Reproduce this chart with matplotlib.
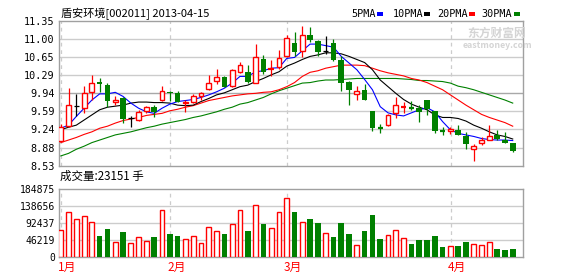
import matplotlib
matplotlib.use("Agg")
import matplotlib.pyplot as plt
from matplotlib.patches import Rectangle
import numpy as np

plt.rcParams['font.family'] = ['Noto Sans CJK SC', 'DejaVu Sans']

# ---------------- data ----------------
open_ = [9.02, 9.30, 9.69, 9.65, 9.97, 10.16, 10.10, 9.78, 9.85, 9.45,
         9.42, 9.60, 9.67, 9.81, 9.97, 9.95, 9.745, 9.77, 9.89, 10.02,
         10.19, 10.25, 10.08, 10.35, 10.35, 10.15, 10.60, 10.41, 10.45, 10.66,
         10.93, 10.77, 11.08, 10.96, 10.77, 10.93, 10.59, 10.17, 9.92, 10.01,
         9.60, 9.28, 9.32, 9.55, 9.67, 9.67, 9.66, 9.81, 9.60, 9.21,
         9.21, 9.23, 9.11, 8.85, 8.97, 9.04, 9.13, 9.03, 8.97]
close_ = [9.28, 9.71, 9.69, 9.94, 10.14, 10.12, 9.80, 9.81, 9.44, 9.45,
          9.57, 9.67, 9.58, 9.99, 9.94, 9.78, 9.77, 9.89, 9.94, 10.15,
          10.25, 10.07, 10.40, 10.49, 10.17, 10.64, 10.36, 10.43, 10.62, 11.01,
          10.75, 11.08, 10.97, 10.75, 10.77, 10.59, 10.15, 10.01, 9.99, 9.81,
          9.27, 9.26, 9.51, 9.71, 9.69, 9.65, 9.58, 9.63, 9.21, 9.20,
          9.24, 9.13, 8.95, 8.91, 9.03, 9.11, 9.06, 8.98, 8.82]
high_ = [9.34, 10.04, 9.93, 10.08, 10.30, 10.24, 10.15, 9.89, 9.86, 9.49,
         9.62, 9.69, 9.71, 10.08, 9.99, 9.99, 9.82, 9.92, 9.97, 10.30,
         10.41, 10.27, 10.41, 10.56, 10.49, 10.90, 10.69, 10.59, 10.79, 11.08,
         11.13, 11.26, 11.23, 10.97, 11.05, 11.00, 10.66, 10.18, 10.09, 10.12,
         9.60, 9.35, 9.53, 9.86, 9.78, 9.79, 9.71, 9.81, 9.60, 9.28,
         9.29, 9.32, 9.19, 8.96, 9.08, 9.32, 9.23, 9.19, 8.98]
low_ = [9.02, 9.29, 9.50, 9.56, 9.81, 9.97, 9.68, 9.71, 9.37, 9.28,
        9.41, 9.55, 9.47, 9.80, 9.79, 9.77, 9.57, 9.76, 9.81, 10.01,
        10.12, 10.06, 10.07, 10.33, 10.15, 10.14, 10.32, 10.27, 10.41, 10.64,
        10.67, 10.64, 10.95, 10.67, 10.70, 10.58, 9.99, 9.71, 9.82, 9.81,
        9.21, 9.17, 9.30, 9.45, 9.55, 9.62, 9.39, 9.52, 9.16, 9.13,
        9.15, 9.12, 8.85, 8.63, 8.93, 9.03, 9.04, 8.97, 8.80]
volume = [73406, 122344, 103313, 111469, 95156, 58000, 77031, 41688, 68875, 38969,
          54375, 43500, 55281, 127781, 63438, 58000, 48938, 57094, 38063, 81563,
          70688, 63438, 90625, 127781, 71594, 141375, 91531, 78844, 122344, 160406,
          123250, 95156, 104219, 93344, 65250, 55281, 93344, 63438, 32625, 71594,
          115094, 49844, 59813, 73406, 51656, 36250, 47125, 47125, 58000, 28094,
          29906, 30813, 41688, 35344, 32625, 40781, 22656, 19938, 23151]
ma5 = [9.26, 9.32, 9.49, 9.65, 9.81, 9.93, 9.93, 9.96, 9.88, 9.75,
       9.65, 9.58, 9.55, 9.65, 9.73, 9.78, 9.80, 9.82, 9.86, 9.91,
       9.97, 10.04, 10.14, 10.27, 10.27, 10.36, 10.38, 10.43, 10.44, 10.62,
       10.64, 10.77, 10.90, 10.90, 10.87, 10.84, 10.66, 10.53, 10.40, 10.21,
       10.01, 9.68, 9.56, 9.52, 9.50, 9.56, 9.62, 9.66, 9.58, 9.39,
       9.23, 9.16, 9.13, 9.10, 9.06, 9.04, 9.03, 9.03, 9.02]
ma10 = [9.23, 9.28, 9.32, 9.42, 9.52, 9.62, 9.67, 9.69, 9.71, 9.75,
        9.77, 9.77, 9.76, 9.76, 9.75, 9.71, 9.70, 9.71, 9.78, 9.84,
        9.91, 9.95, 10.01, 10.07, 10.10, 10.17, 10.23, 10.30, 10.36, 10.47,
        10.53, 10.60, 10.66, 10.69, 10.73, 10.73, 10.71, 10.66, 10.60, 10.54,
        10.40, 10.20, 10.07, 9.94, 9.82, 9.73, 9.67, 9.62, 9.52, 9.47,
        9.47, 9.45, 9.40, 9.32, 9.26, 9.19, 9.13, 9.10, 9.05]
ma20 = [8.98, 9.03, 9.08, 9.14, 9.19, 9.26, 9.30, 9.36, 9.41, 9.44,
        9.47, 9.51, 9.53, 9.55, 9.60, 9.63, 9.67, 9.70, 9.75, 9.80,
        9.83, 9.86, 9.89, 9.91, 9.93, 9.94, 9.96, 9.97, 10.01, 10.07,
        10.15, 10.27, 10.35, 10.38, 10.43, 10.46, 10.49, 10.49, 10.49, 10.48,
        10.43, 10.38, 10.34, 10.31, 10.28, 10.23, 10.20, 10.15, 10.08, 10.01,
        9.91, 9.81, 9.71, 9.62, 9.53, 9.47, 9.42, 9.37, 9.30]
ma30 = [8.72, 8.77, 8.85, 8.91, 8.98, 9.03, 9.08, 9.13, 9.16, 9.19,
        9.23, 9.27, 9.30, 9.34, 9.37, 9.40, 9.43, 9.47, 9.50, 9.54,
        9.58, 9.63, 9.67, 9.73, 9.76, 9.81, 9.86, 9.93, 9.99, 10.04,
        10.09, 10.14, 10.15, 10.18, 10.20, 10.20, 10.21, 10.22, 10.23, 10.23,
        10.23, 10.23, 10.23, 10.23, 10.22, 10.21, 10.19, 10.19, 10.18, 10.17,
        10.14, 10.08, 10.05, 10.01, 9.96, 9.91, 9.86, 9.81, 9.75]
price_ticks = ["8.53", "8.88", "9.24", "9.59", "9.94", "10.29", "10.65", "11.00", "11.35"]
vol_ticks = [0, 46219, 92437, 138656, 184875]
month_labels = ["1月", "2月", "3月", "4月"]
month_days = [0, 14, 29, 50]
ma_names = ["5PMA", "10PMA", "20PMA", "30PMA"]
title = "盾安环境[002011] 2013-04-15"
vol_title = "成交量:23151 手"

# ---------------- styles ----------------
RED = "#ff0000"
GREEN = "#008000"
GRID = "#cccccc"
SPINE = "#a0a0a0"
MONO = ["DejaVu Sans Mono"]

W, H = 578, 276
fig = plt.figure(figsize=(W / 100, H / 100), dpi=100)
fig.patch.set_facecolor("white")

def fx(px):
    return px / W

def fy(py):
    return 1 - py / H

L, R = 59, 522.7
ax = fig.add_axes([fx(L), fy(165.7), fx(R - L), fy(21) - fy(165.7)])
axv = fig.add_axes([fx(L), fy(257.3), fx(R - L), fy(189.3) - fy(257.3)])

n = len(open_)
x = np.arange(n)
xlim = (-0.22, n - 1 + 1.28)

for a in (ax, axv):
    a.set_xlim(*xlim)
    for s in a.spines.values():
        s.set_color(SPINE)
        s.set_linewidth(1.0)
    a.tick_params(length=0, pad=3)
    a.set_xticks([])
    for d in month_days:
        a.axvline(d + 0.04, color=GRID, lw=0.9, ls=(0, (3, 3)), zorder=0.5)

# price panel
pt = [float(t) for t in price_ticks]
ax.set_ylim(pt[0], pt[-1])
ax.set_yticks(pt)
ax.set_yticklabels(price_ticks, family=MONO, fontsize=7.3)
for i, v in enumerate(pt[1:-1], start=1):
    ax.axhline(v, color=("#a8a8a8" if i == 4 else GRID), lw=1.0, zorder=0.4)

ax.plot(x, ma30, color=GREEN, lw=0.8, zorder=2)
ax.plot(x, ma20, color=RED, lw=0.8, zorder=2)
ax.plot(x, ma10, color="black", lw=0.8, zorder=2)
ax.plot(x, ma5, color="#0000ff", lw=0.8, zorder=2)

bw = 0.62
for i in range(n):
    o, c, h, l = open_[i], close_[i], high_[i], low_[i]
    if abs(o - c) < 1e-9:
        col = "black"
    elif c > o:
        col = RED
    else:
        col = GREEN
    ax.plot([i, i], [l, h], color=col, lw=0.9, zorder=3, solid_capstyle="butt")
    lo, hi = min(o, c), max(o, c)
    if hi - lo < 0.025:
        ax.plot([i - bw / 2 - 0.04, i + bw / 2 + 0.04], [(o + c) / 2] * 2, color=col,
                lw=1.6 if col != "black" else 0.9, zorder=4, solid_capstyle="butt")
    elif col == RED:
        ax.add_patch(Rectangle((i - bw / 2, lo), bw, hi - lo, facecolor="white",
                               edgecolor=RED, lw=1.0, zorder=4))
    else:
        ax.add_patch(Rectangle((i - bw / 2 - 0.05, lo), bw + 0.1, hi - lo, facecolor=GREEN,
                               edgecolor="none", zorder=4))

# volume panel
axv.set_ylim(vol_ticks[0], vol_ticks[-1])
axv.set_yticks(vol_ticks)
axv.set_yticklabels([str(v) for v in vol_ticks], family=MONO, fontsize=7.0)
for v in vol_ticks[1:-1]:
    axv.axhline(v, color=GRID, lw=1.0, zorder=0.4)
for i in range(n):
    if close_[i] >= open_[i]:
        axv.add_patch(Rectangle((i - bw / 2, 0), bw, volume[i], facecolor="white",
                                edgecolor=RED, lw=1.0, zorder=3))
    else:
        axv.add_patch(Rectangle((i - bw / 2 - 0.05, 0), bw + 0.1, volume[i],
                                facecolor=GREEN, edgecolor="none", zorder=3))

# month labels
for lab, d in zip(month_labels, month_days):
    axv.text(d - 0.35, -0.05, lab, transform=axv.get_xaxis_transform(), color=RED,
             fontsize=8.5, ha="left", va="top")

# titles
fig.text(fx(61), fy(14), title, fontsize=8, ha="left", va="center", color="black")
fig.text(fx(60), fy(176.5), vol_title, fontsize=8.3, ha="left", va="center", color="black")

# legend
leg_x = [351.7, 392.7, 436.7, 481.7]
sq_x = [377.0, 424.0, 469.3, 514.0]
ma_cols = ["#0000ff", "black", RED, GREEN]
for name, lx, sx, col in zip(ma_names, leg_x, sq_x, ma_cols):
    fig.text(fx(lx), fy(14), name, fontsize=7.3, family=MONO, ha="left", va="center")
    fig.patches.append(Rectangle((fx(sx), fy(15.5)), fx(5.5), fy(12) - fy(15.5),
                                 transform=fig.transFigure, facecolor=col, edgecolor="none"))

# watermark
fig.text(fx(497), fy(33.5), "东方财富网", fontsize=8.5, ha="center", va="center",
         color="#d4d4d4", fontweight="bold", zorder=0)
fig.text(fx(497), fy(46), "eastmoney.com", fontsize=6.3, ha="center", va="center",
         color="#d4d4d4", fontweight="bold", zorder=0)

fig.savefig("out.png", dpi=100, facecolor="white")
